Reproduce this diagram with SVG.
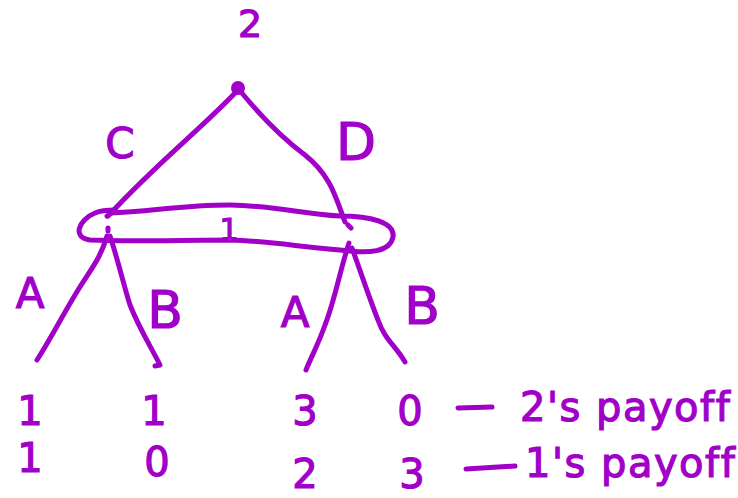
<svg xmlns="http://www.w3.org/2000/svg" width="738" height="498" viewBox="0 0 738 498">
<style>
.ln{fill:none;stroke:#A000C8;stroke-width:5;stroke-linecap:round;stroke-linejoin:round}
.t{fill:#A000C8;stroke:#A000C8;stroke-width:1.2;font-family:"DejaVu Sans","Liberation Sans",sans-serif;font-weight:normal}
.big{font-size:40px}
.lab{font-size:42px}
.lg{font-size:52px}
.pay{font-size:40px;letter-spacing:1.5px}
</style>
<rect width="738" height="498" fill="#ffffff"/>
<g id="player2">
<text class="t" x="250" y="37" text-anchor="middle" style="font-size:38px">2</text>
<circle cx="238" cy="88" r="7" fill="#A000C8"/>
</g>
<g id="infoset1">
<path class="ln" d="M110,213 C150,212 180,205 230,205 C280,206 300,214 340,216 C370,216 395,222 393,237 C390,252 370,254 340,250 C300,247 270,241 230,240 C180,240 130,242 90,240 C72,238 78,220 95,213 C102,210 108,210 115,210"/>
<path class="ln" d="M113,212 l-6,4 M108,228 l0,3 M348,225 l3,3"/>
<text class="t" x="229" y="240" text-anchor="middle" style="font-size:30px">1</text>
</g>
<g id="connectors">
<path class="ln" d="M236,92 C200,130 160,160 108,216"/>
<path class="ln" d="M241,92 C260,115 285,140 305,155 C330,175 335,195 345,222"/>
<path class="ln" d="M107,236 C100,260 90,270 75,295 C60,320 50,340 37,360"/>
<path class="ln" d="M110,236 C118,260 125,290 130,305 C140,330 150,345 160,365 L155,366"/>
<path class="ln" d="M349,243 C340,270 335,300 325,325 C318,345 312,355 306,370"/>
<path class="ln" d="M352,248 C360,270 370,300 378,320 C385,340 395,345 405,362"/>
</g>
<g id="labels">
<text class="t lab" x="120" y="158" text-anchor="middle">C</text>
<text class="t lg" x="356" y="160" text-anchor="middle">D</text>
<text class="t lab" x="30" y="308" text-anchor="middle">A</text>
<text class="t lg" x="165" y="328" text-anchor="middle">B</text>
<text class="t lab" x="295" y="327" text-anchor="middle">A</text>
<text class="t lg" x="422" y="324" text-anchor="middle">B</text>
</g>
<g id="payoffs">
<text class="t big" x="30" y="425" text-anchor="middle">1</text>
<text class="t big" x="154" y="425" text-anchor="middle">1</text>
<text class="t big" x="305" y="425" text-anchor="middle">3</text>
<text class="t big" x="410" y="425" text-anchor="middle">0</text>
<path class="ln" d="M458,408 L492,407"/>
<text class="t pay" x="520" y="421">2's payoff</text>
<text class="t big" x="30" y="472" text-anchor="middle">1</text>
<text class="t big" x="157" y="476" text-anchor="middle">0</text>
<text class="t big" x="305" y="488" text-anchor="middle">2</text>
<text class="t big" x="412" y="488" text-anchor="middle">3</text>
<path class="ln" d="M466,469 L515,466"/>
<text class="t pay" x="525" y="477">1's payoff</text>
</g>
</svg>
